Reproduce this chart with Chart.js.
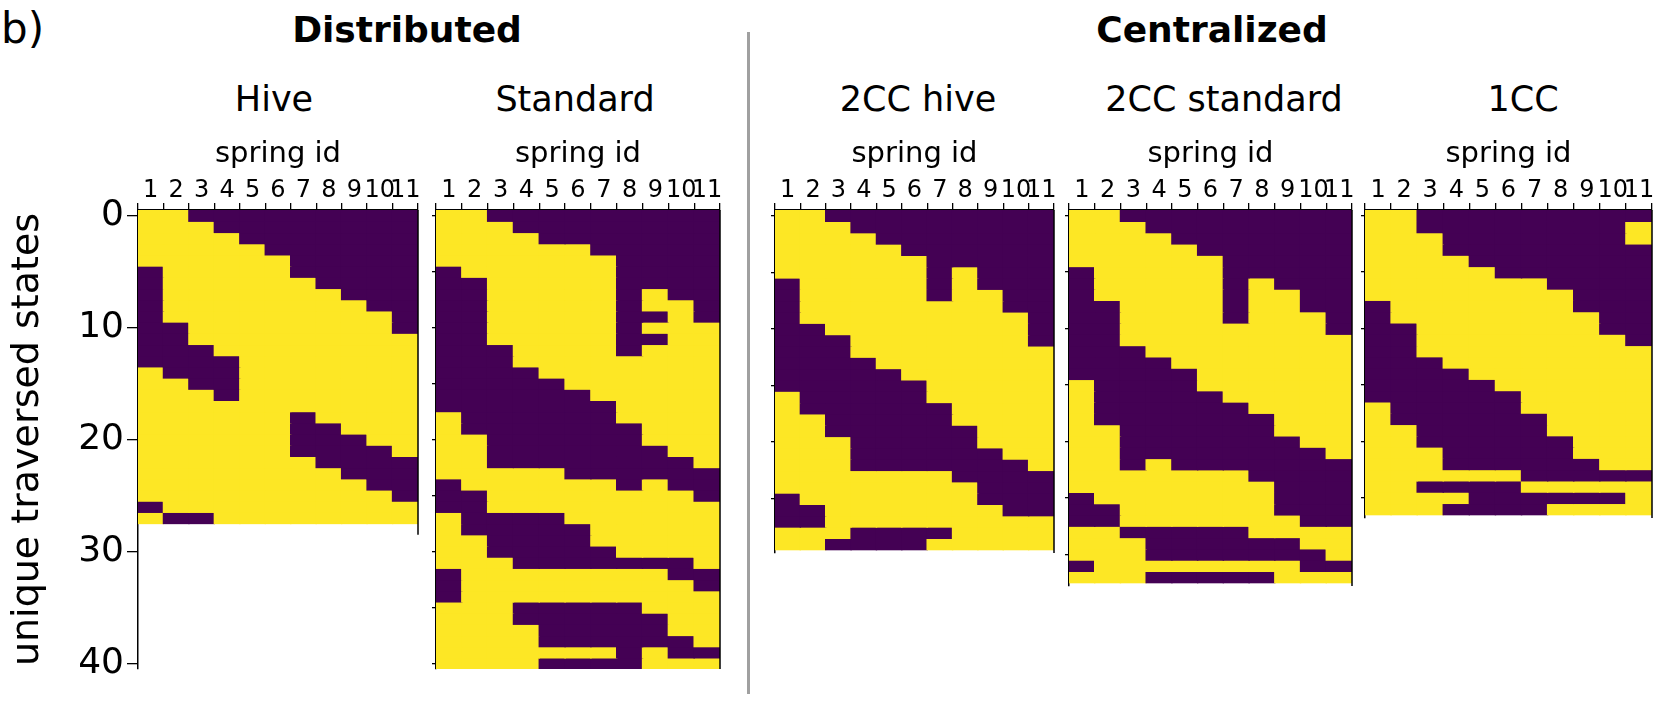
<!DOCTYPE html>
<html>
<head>
<meta charset="utf-8">
<script src="https://cdn.jsdelivr.net/npm/chart.js"></script>
<style>
body { margin: 0; background: #fff; }
.figure { position: relative; width: 1661px; height: 703px; font-family: "DejaVu Sans", sans-serif; color: #000; }
.figure canvas { position: absolute; top: 140px; }
.label { position: absolute; line-height: 1; white-space: nowrap; }
.center { transform: translateX(-50%); }
.head { top: 12px; font-size: 36px; font-weight: bold; }
.sub { top: 82px; font-size: 35px; }
.divider { position: absolute; left: 747px; top: 32px; width: 3px; height: 662px; background: #a0a0a0; }
</style>
</head>
<body>
<div class="figure">
  <div class="label" style="left:1px;top:8px;font-size:42px">b)</div>
  <div class="label center head" style="left:407px">Distributed</div>
  <div class="label center head" style="left:1212px">Centralized</div>
  <div class="divider"></div>

  <div class="label center sub" style="left:274px">Hive</div>
  <div class="label center sub" style="left:575px">Standard</div>
  <div class="label center sub" style="left:918px">2CC hive</div>
  <div class="label center sub" style="left:1224px">2CC standard</div>
  <div class="label center sub" style="left:1523px">1CC</div>

  <canvas id="hive" width="420" height="551" style="left:0px"></canvas>
  <canvas id="standard" width="292" height="533" style="left:430px"></canvas>
  <canvas id="cc2hive" width="287" height="417" style="left:769px"></canvas>
  <canvas id="cc2standard" width="291" height="450" style="left:1063px"></canvas>
  <canvas id="cc1" width="295" height="382" style="left:1359px"></canvas>
</div>

<script>
// spring ids on the top axis
const springIds = ['1', '2', '3', '4', '5', '6', '7', '8', '9', '10', '11'];

// one string per traversed state, one character per spring: 1 = yellow, 0 = purple
const hive = [
  '11000000000', '11100000000', '11110000000', '11111000000', '11111100000',
  '01111100000', '01111110000', '01111111000', '01111111100', '01111111110',
  '00111111110', '00111111111', '00011111111', '00001111111', '10001111111',
  '11001111111', '11101111111', '11111111111', '11111101111', '11111100111',
  '11111100011', '11111100001', '11111110000', '11111111000', '11111111100',
  '11111111110', '01111111111', '10011111111'
];

const standard = [
  '11000000000', '11100000000', '11110000000', '11111100000', '11111110000',
  '01111110000', '00111110000', '00111110100', '00111110110', '00111110010',
  '00111110111', '00111110011', '00011110111', '00011111111', '00001111111',
  '00000111111', '00000011111', '00000001111', '10000001111', '10000000111',
  '11000000111', '11000000011', '11000000001', '11111000000', '01111110100',
  '00111111110', '00111111111', '10000111111', '10000011111', '11000011111',
  '11000001111', '11100000001', '01111111100', '01111111110', '01111111111',
  '11100000111', '11100000011', '11110000011', '11110000001', '11111110100',
  '11110000111'
];

const cc2Hive = [
  '11000000000', '11100000000', '11110000000', '11111000000', '11111100000',
  '11111101000', '01111101000', '01111101100', '01111111100', '01111111110',
  '00111111110', '00011111110', '00011111111', '00001111111', '00000111111',
  '00000011111', '10000011111', '10000001111', '11000001111', '11000000111',
  '11100000111', '11100000011', '11100000001', '11111110000', '11111111000',
  '01111111000', '00111111100', '00111111111', '11100001111', '11000011111'
];

const cc2Standard = [
  '11000000000', '11100000000', '11110000000', '11111000000', '11111100000',
  '01111100000', '01111101000', '01111101100', '00111101100', '00111101110',
  '00111111110', '00111111111', '00011111111', '00001111111', '00000111111',
  '10000111111', '10000011111', '10000001111', '10000000111', '11000000111',
  '11000000011', '11000000001', '11010000000', '11111110000', '11111111000',
  '01111111000', '00111111000', '00111111100', '11000001111', '11100000011',
  '11100000001', '01111111100', '11100000111'
];

const cc1 = [
  '11000000000', '11000000001', '11100000001', '11100000000', '11110000000',
  '11111000000', '11111110000', '11111111000', '01111111000', '01111111100',
  '00111111100', '00111111110', '00111111111', '00011111111', '00001111111',
  '00000111111', '00000011111', '10000011111', '10000001111', '11000001111',
  '11000000111', '11100000111', '11100000011', '11111100000', '11000011111',
  '11110000001', '11100001111'
];

// y tick values
const labelledTicks = [0, 10, 20, 30, 40];
const minorTicks = [0, 5, 10, 15, 20, 25, 30, 35, 40];

const YELLOW = '#fde725';
const PURPLE = '#440154';
const FONT = 'DejaVu Sans';

// right-hand frame line, may stop before the bottom of the axis
const rightSpine = {
  id: 'rightSpine',
  afterDatasetsDraw(chart, args, opts) {
    const { ctx, chartArea, scales } = chart;
    const bottom = scales.y.getPixelForValue(opts.end);
    ctx.save();
    ctx.strokeStyle = '#000';
    ctx.lineWidth = 1.5;
    ctx.beginPath();
    ctx.moveTo(chartArea.right, chartArea.top);
    ctx.lineTo(chartArea.right, bottom);
    ctx.stroke();
    ctx.restore();
  }
};

function makePanel(id, rows, o) {
  const datasets = rows.map((row, k) => ({
    data: springIds.map(() => [k - 0.5, k + 0.5]),
    backgroundColor: row.split('').map(c => (c === '1' ? YELLOW : PURPLE)),
    borderWidth: 0,
    inflateAmount: 0.7,
    grouped: false,
    barPercentage: 1,
    categoryPercentage: 1
  }));

  const yTicks = o.labelled ? labelledTicks : minorTicks.filter(v => v <= o.yMax);

  new Chart(document.getElementById(id), {
    type: 'bar',
    data: { labels: springIds, datasets },
    options: {
      responsive: false,
      animation: false,
      devicePixelRatio: 1,
      layout: { padding: { left: 0, top: 0, right: 2, bottom: o.padBottom } },
      plugins: {
        legend: { display: false },
        tooltip: { enabled: false },
        rightSpine: { end: o.spineEnd }
      },
      scales: {
        x: {
          position: 'top',
          offset: true,
          grid: { drawOnChartArea: false, drawTicks: true, tickLength: 7, color: '#000', lineWidth: 1.3 },
          border: { display: true, color: '#000', width: 1.5 },
          ticks: {
            autoSkip: false, maxRotation: 0, minRotation: 0, padding: 0, color: '#000',
            font: { family: FONT, size: 24, lineHeight: 1 }
          },
          title: {
            display: true, text: 'spring id', color: '#000',
            font: { family: FONT, size: 29, lineHeight: 1 },
            padding: { top: 0, bottom: 0 }
          },
          afterFit(s) { s.height = 70; s.paddingLeft = 0; s.paddingRight = 0; }
        },
        y: {
          reverse: true,
          min: -0.5,
          max: o.yMax,
          afterBuildTicks(s) { s.ticks = yTicks.map(v => ({ value: v })); },
          grid: { drawOnChartArea: false, drawTicks: true, tickLength: o.labelled ? 11 : 4, color: '#000', lineWidth: 1.3 },
          border: { display: true, color: '#000', width: 1.5 },
          ticks: {
            display: o.labelled, padding: 3, color: '#000',
            font: { family: FONT, size: 36 }
          },
          title: {
            display: o.labelled, text: 'unique traversed states', color: '#000',
            font: { family: FONT, size: 38, lineHeight: 1 },
            padding: { top: 9, bottom: 0 }
          },
          afterFit(s) { s.width = o.axisWidth; s.paddingTop = 0; s.paddingBottom = 0; }
        }
      }
    },
    plugins: [rightSpine]
  });
}

makePanel('hive', hive, { labelled: true, axisWidth: 138, yMax: 40.5, spineEnd: 28.5, padBottom: 22 });
makePanel('standard', standard, { labelled: false, axisWidth: 6, yMax: 40.5, spineEnd: 40.5, padBottom: 4 });
makePanel('cc2hive', cc2Hive, { labelled: false, axisWidth: 6, yMax: 29.8, spineEnd: 29.8, padBottom: 4 });
makePanel('cc2standard', cc2Standard, { labelled: false, axisWidth: 6, yMax: 32.8, spineEnd: 32.8, padBottom: 4 });
makePanel('cc1', cc1, { labelled: false, axisWidth: 6, yMax: 26.8, spineEnd: 26.8, padBottom: 4 });
</script>
</body>
</html>
